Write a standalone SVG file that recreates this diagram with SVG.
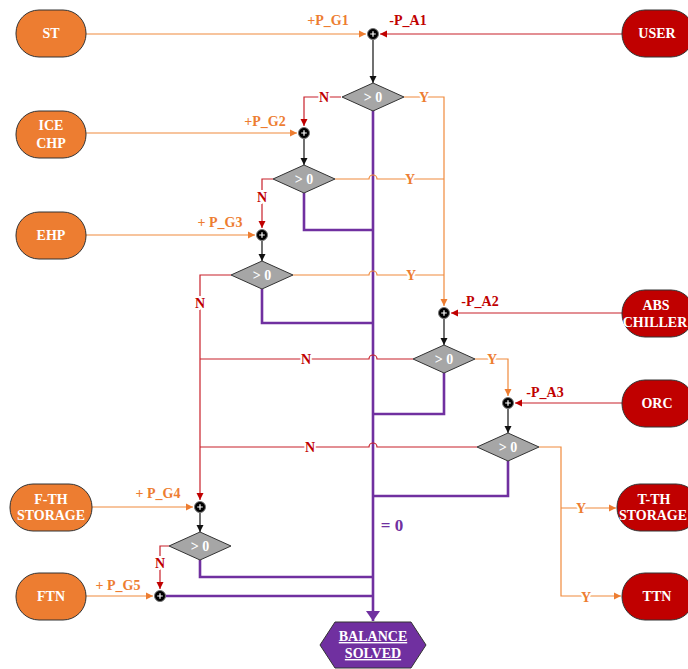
<svg xmlns="http://www.w3.org/2000/svg" width="688" height="669" viewBox="0 0 688 669">
<defs>
<style>
.txt{font-family:"Liberation Serif","Times New Roman",serif;font-weight:bold}
.nt{font-size:14px;fill:#fff;text-anchor:middle}
.og{fill:#ED7D31;stroke:#333;stroke-width:1}
.rd{fill:#C00000;stroke:#333;stroke-width:1}
.dia{fill:#A6A6A6;stroke:#333;stroke-width:1}
.dt{font-size:14px;fill:#fff;text-anchor:middle}
.lo{fill:none;stroke:#F08A3C;stroke-width:1.2}
.lr{fill:none;stroke:#C8202A;stroke-width:1.2}
.lk{fill:none;stroke:#111;stroke-width:1.2}
.lp{fill:none;stroke:#7030A0;stroke-width:2.6}
.lbo{font-size:14px;fill:#ED7D31;text-anchor:middle}
.lbr{font-size:14px;fill:#C00000;text-anchor:middle}
.bg{paint-order:stroke;stroke:#fff;stroke-width:4px}
</style>
<marker id="ao" markerWidth="8" markerHeight="8" refX="7" refY="4" orient="auto" markerUnits="userSpaceOnUse"><path d="M0,0.5 L7,4 L0,7.5 Z" fill="#ED7D31"/></marker>
<marker id="ar" markerWidth="8" markerHeight="8" refX="7" refY="4" orient="auto" markerUnits="userSpaceOnUse"><path d="M0,0.5 L7,4 L0,7.5 Z" fill="#C00000"/></marker>
<marker id="ak" markerWidth="8" markerHeight="8" refX="7" refY="4" orient="auto" markerUnits="userSpaceOnUse"><path d="M0,0.5 L7,4 L0,7.5 Z" fill="#111"/></marker>
<marker id="ap" markerWidth="12" markerHeight="14" refX="10" refY="7" orient="auto" markerUnits="userSpaceOnUse"><path d="M0,0 L10,7 L0,14 Z" fill="#7030A0"/></marker>
<g id="jn"><circle r="5.5" fill="#000" stroke="#777" stroke-width="1"/><path d="M-2.8,0 H2.8 M0,-2.8 V2.8" stroke="#fff" stroke-width="1.2"/></g>
</defs>
<rect width="688" height="669" fill="#fff"/>

<g id="connectors">
<path class="lp" d="M373,110 V621" marker-end="url(#ap)"/>
<path class="lp" d="M304,193 V230 H373"/>
<path class="lp" d="M262,289 V323 H373"/>
<path class="lp" d="M444,373 V414 H373"/>
<path class="lp" d="M508,461 V496 H373"/>
<path class="lp" d="M200,560 V577 H373"/>
<path class="lp" d="M165,596 H373"/>
<path class="lo" d="M86,34 H366" marker-end="url(#ao)"/>
<path class="lo" d="M86,133 H297" marker-end="url(#ao)"/>
<path class="lo" d="M86,235 H255" marker-end="url(#ao)"/>
<path class="lo" d="M92,507 H193" marker-end="url(#ao)"/>
<path class="lo" d="M86,596 H153" marker-end="url(#ao)"/>
<path class="lr" d="M622,34 H380" marker-end="url(#ar)"/>
<path class="lr" d="M622,313 H451" marker-end="url(#ar)"/>
<path class="lr" d="M622,403 H515" marker-end="url(#ar)"/>
<path class="lk" d="M373,40 V83" marker-end="url(#ak)"/>
<path class="lk" d="M304,139 V165" marker-end="url(#ak)"/>
<path class="lk" d="M262,241 V261" marker-end="url(#ak)"/>
<path class="lk" d="M444,319 V345" marker-end="url(#ak)"/>
<path class="lk" d="M508,409 V433" marker-end="url(#ak)"/>
<path class="lk" d="M200,513 V532" marker-end="url(#ak)"/>
<path class="lo" d="M404,97 H444 V306" marker-end="url(#ao)"/>
<path class="lo" d="M335,179 H369 a4,4 0 0 1 8,0 H444"/>
<path class="lo" d="M293,275 H369 a4,4 0 0 1 8,0 H444"/>
<path class="lo" d="M475,359 H508 V396" marker-end="url(#ao)"/>
<path class="lo" d="M539,447 H561 V596 H621" marker-end="url(#ao)"/>
<path class="lo" d="M561,508 H616" marker-end="url(#ao)"/>
<path class="lr" d="M341,97 H304 V126" marker-end="url(#ar)"/>
<path class="lr" d="M273,179 H262 V228" marker-end="url(#ar)"/>
<path class="lr" d="M231,275 H200 V500" marker-end="url(#ar)"/>
<path class="lr" d="M413,359 H377 a4,4 0 0 0 -8,0 H200"/>
<path class="lr" d="M477,447 H377 a4,4 0 0 0 -8,0 H200"/>
<path class="lr" d="M169,546 H160 V589" marker-end="url(#ar)"/>
<g class="txt">
<text class="lbo" x="328" y="25">+P_G1</text>
<text class="lbr" x="408" y="25">-P_A1</text>
<text class="lbo" x="265" y="126">+P_G2</text>
<text class="lbo" x="220" y="227">+ P_G3</text>
<text class="lbr" x="480" y="306">-P_A2</text>
<text class="lbr" x="545" y="397">-P_A3</text>
<text class="lbo" x="158" y="498">+ P_G4</text>
<text class="lbo" x="118" y="590">+ P_G5</text>
<text class="lbo bg" x="424" y="102">Y</text>
<text class="lbo bg" x="410" y="184">Y</text>
<text class="lbo bg" x="411" y="280">Y</text>
<text class="lbo bg" x="492" y="364">Y</text>
<text class="lbo bg" x="581" y="513">Y</text>
<text class="lbo bg" x="586" y="602">Y</text>
<text class="lbr bg" x="324" y="102">N</text>
<text class="lbr bg" x="262" y="202">N</text>
<text class="lbr bg" x="200" y="308">N</text>
<text class="lbr bg" x="306" y="364">N</text>
<text class="lbr bg" x="310" y="452">N</text>
<text class="lbr bg" x="160" y="568">N</text>
<text x="392" y="531" style="font-size:17px;fill:#7030A0;text-anchor:middle">= 0</text>
</g>
</g>

<g id="junctions">
<use href="#jn" x="373" y="34"/>
<use href="#jn" x="304" y="133"/>
<use href="#jn" x="262" y="235"/>
<use href="#jn" x="444" y="313"/>
<use href="#jn" x="508" y="403"/>
<use href="#jn" x="200" y="507"/>
<use href="#jn" x="160" y="596"/>
</g>

<g id="d1"><path class="dia" d="M342,97 L373,83 L404,97 L373,111 Z"/><text class="txt dt" x="373" y="102">&gt; 0</text></g>
<g id="d2"><path class="dia" d="M273,179 L304,165 L335,179 L304,193 Z"/><text class="txt dt" x="304" y="184">&gt; 0</text></g>
<g id="d3"><path class="dia" d="M231,275 L262,261 L293,275 L262,289 Z"/><text class="txt dt" x="262" y="280">&gt; 0</text></g>
<g id="d4"><path class="dia" d="M413,359 L444,345 L475,359 L444,373 Z"/><text class="txt dt" x="444" y="364">&gt; 0</text></g>
<g id="d5"><path class="dia" d="M477,447 L508,433 L539,447 L508,461 Z"/><text class="txt dt" x="508" y="452">&gt; 0</text></g>
<g id="d6"><path class="dia" d="M169,546 L200,532 L231,546 L200,560 Z"/><text class="txt dt" x="200" y="551">&gt; 0</text></g>

<g id="st"><rect class="og" x="16" y="10" width="70" height="47" rx="23"/><text class="txt nt" x="51" y="38">ST</text></g>
<g id="ice"><rect class="og" x="16" y="111" width="70" height="47" rx="23"/><text class="txt nt" x="51" y="130">ICE</text><text class="txt nt" x="51" y="148">CHP</text></g>
<g id="ehp"><rect class="og" x="16" y="212" width="70" height="47" rx="23"/><text class="txt nt" x="51" y="240">EHP</text></g>
<g id="fth"><rect class="og" x="10" y="484" width="82" height="47" rx="23"/><text class="txt nt" x="51" y="504">F-TH</text><text class="txt nt" x="51" y="520">STORAGE</text></g>
<g id="ftn"><rect class="og" x="16" y="573" width="70" height="47" rx="23"/><text class="txt nt" x="51" y="601">FTN</text></g>

<g id="user"><rect class="rd" x="622" y="10" width="72" height="47" rx="23"/><text class="txt nt" x="657" y="38">USER</text></g>
<g id="abs"><rect class="rd" x="622" y="290" width="72" height="47" rx="23"/><text class="txt nt" x="656" y="310">ABS</text><text class="txt nt" x="655" y="327">CHILLER</text></g>
<g id="orc"><rect class="rd" x="622" y="380" width="72" height="47" rx="23"/><text class="txt nt" x="657" y="408">ORC</text></g>
<g id="tth"><rect class="rd" x="617" y="484" width="82" height="47" rx="23"/><text class="txt nt" x="654" y="504">T-TH</text><text class="txt nt" x="653" y="520">STORAGE</text></g>
<g id="ttn"><rect class="rd" x="622" y="573" width="72" height="47" rx="23"/><text class="txt nt" x="657" y="601">TTN</text></g>

<g id="balance"><path d="M320,645 L335,622 L411,622 L426,645 L411,668 L335,668 Z" fill="#7030A0" stroke="#333" stroke-width="1"/>
<text class="txt" x="373" y="641" style="font-size:14px;fill:#fff;text-anchor:middle;text-decoration:underline">BALANCE</text>
<text class="txt" x="373" y="658" style="font-size:14px;fill:#fff;text-anchor:middle;text-decoration:underline">SOLVED</text></g>
</svg>
